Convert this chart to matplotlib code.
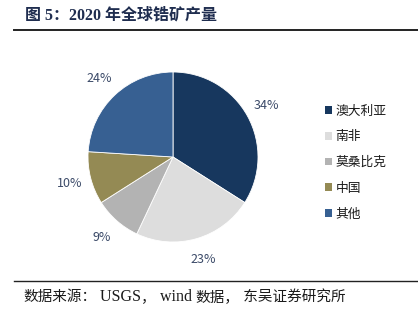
"""图 5：2020 年全球锆矿产量（饼图）"""

import matplotlib.pyplot as plt
from matplotlib.lines import Line2D
from matplotlib.patches import Patch

PAISES = ['澳大利亚', '南非', '莫桑比克', '中国', '其他']
PORCENTAJES = [34, 23, 9, 10, 24]
COLORES = ['#17375E', '#DDDDDD', '#B3B3B3', '#948A54', '#376092']

TITULO = '图 5：2020 年全球锆矿产量'
# (texto, es_latino)
FUENTE = [('数据来源：', False), (' USGS', True), ('，', False),
          (' wind ', True), ('数据，', False), (' 东吴证券研究所', False)]

CJK = ['Noto Sans CJK SC', 'DejaVu Sans']
SERIF = ['Liberation Serif', 'Noto Sans CJK SC']

W, H = 418, 322
fig = plt.figure(figsize=(W / 100, H / 100), dpi=100)

# centro del pastel ~ (173, 157) px, radio ~ 85 px
r = 85
cx, cy = 173, 157
ax = fig.add_axes([(cx - r) / W, 1 - (cy + r) / H, 2 * r / W, 2 * r / H])
ax.pie(PORCENTAJES, colors=COLORES, startangle=90, counterclock=False,
       autopct='%d%%', pctdistance=1.26, radius=1,
       wedgeprops=dict(linewidth=0.6, edgecolor='white'),
       textprops=dict(color='#3B4A68', fontsize=9, family=CJK))
ax.set_xlim(-1, 1)
ax.set_ylim(-1, 1)
ax.set_aspect('equal')

# leyenda
handles = [Patch(facecolor=c, edgecolor='none') for c in COLORES]
fig.legend(handles, PAISES, loc='upper left',
           bbox_to_anchor=(313 / W, 1 - 93 / H), frameon=False,
           prop=dict(family=CJK, size=9.2), handlelength=0.55,
           handleheight=0.55, handletextpad=0.3, labelspacing=1.0,
           labelcolor='#1A1A1A')

# titulo y lineas
fig.text(25 / W, 1 - 15 / H, TITULO, ha='left', va='center',
         fontsize=11.5, fontweight='bold', color='#1F2D4F', family=SERIF)
fig.add_artist(Line2D([14 / W, 1], [1 - 29.5 / H] * 2, color='#222222',
                      lw=1.4, transform=fig.transFigure))
fig.add_artist(Line2D([14 / W, 1], [1 - 281 / H] * 2, color='#222222',
                      lw=1.0, transform=fig.transFigure))

# fuente: segmentos CJK y latinos con tamanos distintos
renderer = fig.canvas.get_renderer()
x = 23.0
for texto, latino in FUENTE:
    t = fig.text(x / W, 1 - 297 / H, texto, ha='left', va='center',
                 fontsize=11.5 if latino else 10.5, color='#1A1A1A',
                 family=SERIF if latino else CJK)
    x += t.get_window_extent(renderer).width

fig.savefig('out.png', dpi=100)
